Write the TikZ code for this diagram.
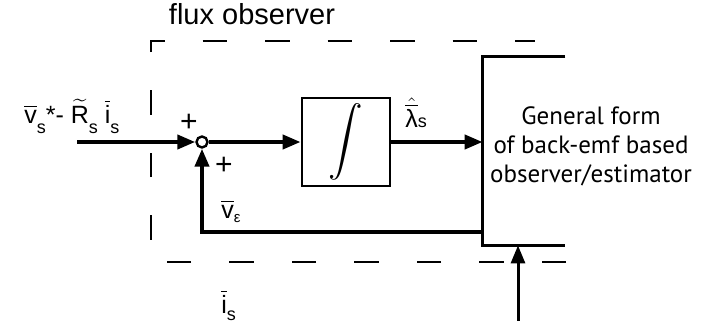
\documentclass[tikz,border=0pt]{standalone}
\usepackage{amsmath}
\usepackage{fontspec}
\setmainfont{Liberation Sans}
\newfontfamily\boxfont{PT Sans}
\usetikzlibrary{arrows.meta,positioning}

\newcommand{\ovl}[1]{\overline{\text{#1}}}
\newcommand{\lowsub}[2][5pt]{\raisebox{-#1}{\fontsize{9}{9}\selectfont #2}}

\begin{document}
\begin{tikzpicture}[
  x=0.5pt, y=-0.5pt,
  font=\fontsize{12.5}{14}\selectfont,
  sig/.style={line width=2pt},
  intbox/.style={draw, line width=1.4pt, minimum width=44pt, minimum height=44pt, inner sep=0pt},
  sumpt/.style={draw, circle, line width=1.2pt, minimum size=5.5pt, inner sep=0pt},
  frame/.style={line width=1.3pt, dash pattern=on 12.25pt off 19pt},
  lbl/.style={anchor=base west, inner sep=0pt},
  sgn/.style={inner sep=0pt, font=\fontsize{15}{15}\selectfont},
  >={Triangle[length=9pt, width=7pt]},
]
\useasboundingbox (0,0) rectangle (718,321);
% observer frame
\draw[frame] (566,262) -- (151,262) -- (151,41) -- (535,41);
\node[anchor=base, inner sep=0pt, font=\fontsize{14.5}{16}\selectfont] (title) at (252,25) {flux observer};
% blocks
\coordinate (vin) at (77,142);
\node[sumpt] (sum) at (202,142) {};
\node[intbox] (integ) at (346,142) {\fontsize{17}{17}\selectfont$\displaystyle\int$};
\node[minimum width=41pt, minimum height=94pt, inner sep=0pt] (emf) at (524,151) {};
\node[font={\boxfont\fontsize{12.5}{14.5}\selectfont}, align=center] (emftxt) at (591,146)
  {General form\\of back-emf based\\observer/estimator};
\draw[line width=1.4pt] (emf.north east) -- (emf.north west) -- (emf.south west) -- (emf.south east);
% signals
\draw[sig,->] (vin) -- (sum);
\draw[sig,->] (sum) -- (integ);
\draw[sig,->] (integ) -- (integ -| emf.west);
\coordinate (fb) at (483,232);
\draw[sig,->] (fb) -| (sum);
\coordinate (isin) at (518,321);
\draw[line width=1.5pt,->] (isin) -- (emf.south -| isin);
% labels
\node[lbl] (vinlbl) at (24,123) {$\ovl{v}$\lowsub{s}*- $\widetilde{\text{R}}$\lowsub{s} $\ovl{i}$\lowsub{s}};
\node[sgn] (plusa) at (189,123) {+};
\node[sgn] (plusb) at (224,166) {+};
\node[lbl] (lam) at (405,127) {$\hat{\ovl{λ}}$\lowsub[0pt]{s}};
\node[lbl] (veps) at (221,218) {$\ovl{v}$\lowsub[2pt]{\fontsize{7.5}{8}\selectfont ε}};
\node[lbl] (islbl) at (221,313) {$\ovl{i}$\lowsub[3.5pt]{s}};
\end{tikzpicture}
\end{document}
